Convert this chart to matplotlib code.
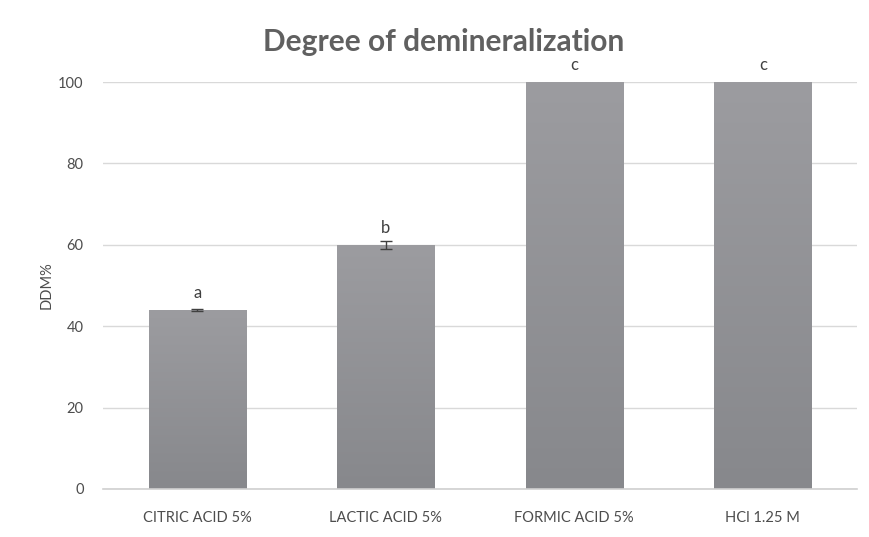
import matplotlib
matplotlib.use("Agg")
import matplotlib.pyplot as plt
import numpy as np
from matplotlib.colors import LinearSegmentedColormap

categories = ["CITRIC ACID 5%", "LACTIC ACID 5%", "FORMIC ACID 5%", "HCl 1.25 M"]
values = [44, 60, 100, 100]
errors = [0.15, 1.0, 0, 0]
letters = ["a", "b", "c", "c"]
yticks = [0, 20, 40, 60, 80, 100]

plt.rcParams['font.family'] = ['Lato', 'DejaVu Sans']
txt = "#4d4d4d"

fig = plt.figure(figsize=(8.69, 5.37), dpi=100)
ax = fig.add_axes([103/869, 1-489/537, (857-103)/869, (489-82)/537])

x = np.arange(len(categories))
bars = ax.bar(x, values, width=0.515, color="#929296", zorder=2)

# vertical gradient inside bars
grad = np.linspace(0, 1, 256).reshape(-1, 1)
cmap = LinearSegmentedColormap.from_list("g", ["#87888c", "#9c9ca0"])
for b in bars:
    x0, y0 = b.get_x(), b.get_y()
    im = ax.imshow(grad, extent=[x0, x0 + b.get_width(), y0, y0 + b.get_height()],
                   origin="lower", aspect="auto", cmap=cmap, zorder=2.5)
    im.set_clip_path(b)

for xi, v, e in zip(x, values, errors):
    if e > 0:
        ax.errorbar(xi, v, yerr=e, fmt="none", ecolor="#404040", elinewidth=1, capsize=4, capthick=1, zorder=4)

for xi, v, l in zip(x, values, letters):
    ax.text(xi, v + 2.2, l, ha="center", va="bottom", fontsize=12, color="#404040", clip_on=False)

ax.set_xlim(-0.5, len(categories) - 0.5)
ax.set_ylim(0, 100)
ax.set_yticks(yticks)
ax.set_yticklabels([str(t) for t in yticks])
ax.set_xticks(x)
ax.set_xticklabels(categories)
ax.tick_params(axis="both", length=0, labelsize=10.5, colors=txt)
ax.tick_params(axis="x", pad=16)
ax.tick_params(axis="y", pad=14)
ax.yaxis.grid(True, color="#d9d9d9", linewidth=1, zorder=0)
ax.set_axisbelow(True)
for s in ["top", "right", "left"]:
    ax.spines[s].set_visible(False)
ax.spines["bottom"].set_color("#d0d0d0")
ax.spines["bottom"].set_linewidth(1.2)

ax.set_ylabel("DDM%", fontsize=10.5, color=txt, labelpad=3)
fig.text(444/869, 1-42/537, "Degree of demineralization", ha="center", va="center",
         fontsize=21.5, fontweight="bold", color="#606060")

fig.savefig("out.png", dpi=100)
